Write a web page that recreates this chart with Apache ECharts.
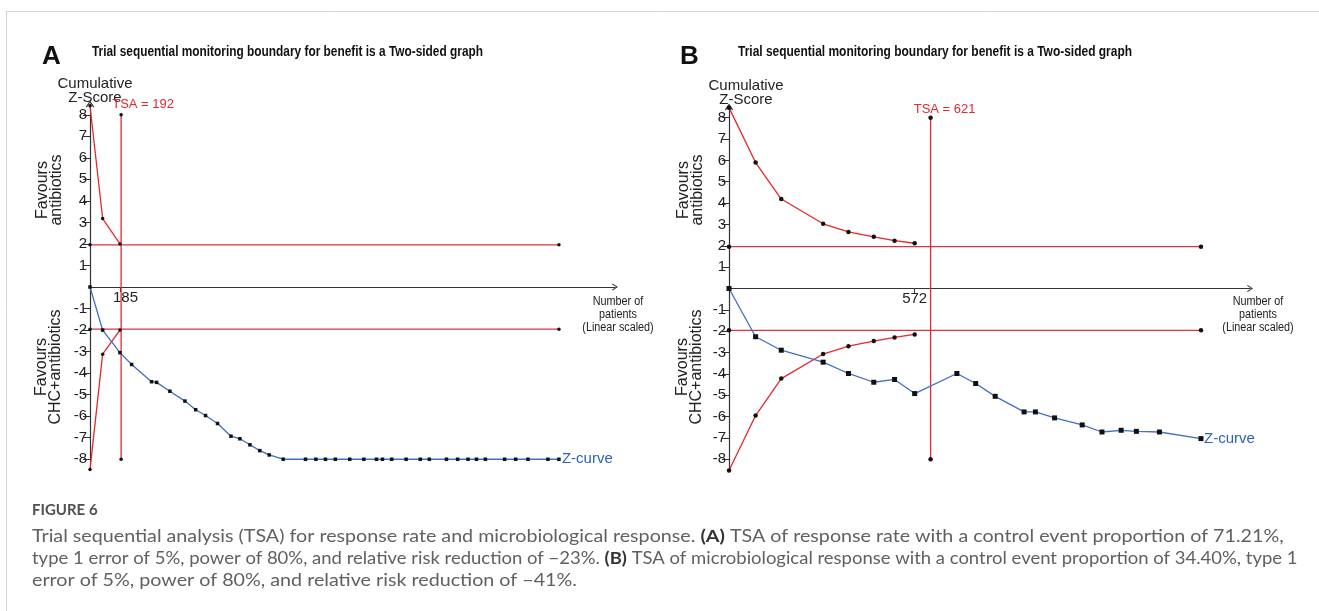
<!DOCTYPE html>
<html>
<head>
<meta charset="utf-8">
<title>TSA figure 6</title>
<script src="https://cdn.jsdelivr.net/npm/echarts@6/dist/echarts.min.js"></script>
<style>
    html, body { margin: 0; padding: 0; background: #fff; }
    #chart { width: 1319px; height: 611px; }
</style>
</head>
<body>
<div id="chart"></div>
<script>
// A: response rate, number of patients / cumulative z-score
var boundaryPatientsA = [0, 78, 185];
var upperBoundaryA = [8.42, 3.18, 2.0];
var lowerBoundaryA = [-8.48, -3.12, -2.0];
var zPatientsA = [0, 78, 185, 257, 380, 411, 493, 586, 652, 713, 787, 870, 925, 987, 1048, 1106, 1192,
    1330, 1394, 1453, 1514, 1603, 1690, 1768, 1805, 1862, 1951, 2038, 2094, 2200, 2269, 2333, 2385,
    2440, 2559, 2627, 2703, 2826, 2894];
var zCurveA = [0, -2.0, -3.05, -3.6, -4.4, -4.43, -4.84, -5.3, -5.7, -5.97, -6.34, -6.93, -7.05, -7.33, -7.6, -7.8, -8,
    -8, -8, -8, -8, -8, -8, -8, -8, -8, -8, -8, -8, -8, -8, -8, -8,
    -8, -8, -8, -8, -8, -8];
var tsaA = 192;
var tickA = 185;

// B: microbiological response
var boundaryPatientsB = [0, 82, 161, 290, 368, 446, 510, 572];
var upperBoundaryB = [8.47, 5.9, 4.19, 3.03, 2.65, 2.42, 2.24, 2.12];
var lowerBoundaryB = [-8.52, -5.95, -4.22, -3.07, -2.7, -2.46, -2.29, -2.15];
var zPatientsB = [0, 82, 161, 290, 368, 446, 510, 572, 702, 760, 820, 909, 944, 1003, 1088, 1149, 1208, 1255, 1326, 1454];
var zCurveB = [0, -2.26, -2.89, -3.45, -3.98, -4.39, -4.26, -4.92, -3.98, -4.45, -5.05, -5.78, -5.78, -6.06, -6.39,
    -6.72, -6.64, -6.69, -6.72, -7.03];
var tsaB = 621;
var tickB = 572;

// conventional boundary and y tick labels
var conventionalZ = 1.96;
var zTicks = [-8, -7, -6, -5, -4, -3, -2, -1, 1, 2, 3, 4, 5, 6, 7, 8];

var titleText = 'Trial sequential monitoring boundary for benefit is a Two-sided graph';
var captionLines = [
    'Trial sequential analysis (TSA) for response rate and microbiological response. {b|(A)} TSA of response rate with a control event proportion of 71.21%,',
    'type 1 error of 5%, power of 80%, and relative risk reduction of \u221223%. {b|(B)} TSA of microbiological response with a control event proportion of 34.40%, type 1',
    'error of 5%, power of 80%, and relative risk reduction of \u221241%.'
];

var RED = '#e6272d';
var RED_H = '#d63640';
var BLUE = '#3f6fc6';
var INK = '#222';
var CHEVRON = 'path://M0,9 L6,0 L12,9 L10.6,10 L6,3 L1.4,10 Z';

var chart = echarts.init(document.getElementById('chart'));

// measure text so that narrow fonts can be squeezed to the picture's width
var measureCtx = document.createElement('canvas').getContext('2d');
function fitScale(text, font, width) {
    measureCtx.font = font;
    return width / measureCtx.measureText(text.replace(/\{b\|([^}]*)\}/g, '$1')).width;
}

function zip(xs, ys) {
    return xs.map(function (x, i) {
        return [x, ys[i]];
    });
}

// the x axis sits on z = 0, moved up into the grid with a negative offset
function xAxisFor(g, max, tick, pad, lift) {
    return {
        type: 'value', gridIndex: g, min: 0, max: max, offset: -lift,
        splitLine: { show: false },
        axisLine: {
            onZero: false,
            symbol: ['none', CHEVRON],
            symbolSize: [10, 6],
            lineStyle: { color: '#333', width: 1.2 }
        },
        axisTick: { customValues: [tick], length: 5, lineStyle: { color: '#333' } },
        axisLabel: {
            customValues: [tick], color: INK, fontSize: 15, margin: 3,
            fontFamily: 'Liberation Sans', padding: [0, 0, 0, pad]
        }
    };
}

function yAxisFor(g) {
    return {
        type: 'value', gridIndex: g, min: -8.5, max: 8.5,
        splitLine: { show: false },
        axisLine: {
            show: true, onZero: false,
            symbol: ['none', CHEVRON],
            symbolSize: [10, 7],
            lineStyle: { color: '#333', width: 1.2 }
        },
        axisTick: { show: true, customValues: zTicks, length: 7, lineStyle: { color: '#333' } },
        axisLabel: { customValues: zTicks, color: INK, fontSize: 15, margin: 3, fontFamily: 'Liberation Sans' }
    };
}

function panelSeries(g, p) {
    var base = {
        type: 'line', xAxisIndex: g, yAxisIndex: g, clip: false, silent: true,
        symbol: 'circle', symbolSize: p.dot, showAllSymbol: true,
        itemStyle: { color: '#111' }
    };
    function line(extra) {
        return Object.assign({}, base, extra);
    }
    var end = p.zx[p.zx.length - 1];
    return [
        line({ data: zip([0, end], [conventionalZ, conventionalZ]), lineStyle: { color: RED_H, width: 1.2 } }),
        line({ data: zip([0, end], [-conventionalZ, -conventionalZ]), lineStyle: { color: RED_H, width: 1.2 } }),
        line({ data: zip(p.bx, p.upper), lineStyle: { color: RED, width: 1.3 } }),
        line({ data: zip(p.bx, p.lower), lineStyle: { color: RED, width: 1.3 } }),
        line({
            data: [[p.tsa, -8], {
                value: [p.tsa, 8],
                label: {
                    show: true, position: 'top', formatter: 'TSA = ' + p.tsa,
                    color: RED, fontSize: 13, fontFamily: 'Liberation Sans', offset: p.tsaOffset
                }
            }],
            lineStyle: { color: RED, width: 1.3 }
        }),
        line({
            data: zip(p.zx, p.z), symbol: 'rect', symbolSize: p.square,
            lineStyle: { color: BLUE, width: 1.3 },
            endLabel: {
                show: true, formatter: 'Z-curve', color: '#2d5fbe', fontSize: 15,
                fontFamily: 'Liberation Sans', distance: 3
            }
        })
    ];
}

function text(x, y, str, font, fill, align, extra, lineHeight) {
    return Object.assign({
        type: 'text', x: x, y: y, silent: true,
        style: {
            text: str, font: font, fill: fill, textAlign: align, textVerticalAlign: 'middle',
            lineHeight: lineHeight || 14
        }
    }, extra || {});
}

var labelFont = '15px "Liberation Sans", Arial, sans-serif';
var nameFont = '16px "Liberation Sans", Arial, sans-serif';
var titleFont = 'bold 15px "Liberation Sans", Arial, sans-serif';
var smallFont = '12px "Liberation Sans", Arial, sans-serif';
var capFont = '17px Lato, "Open Sans", sans-serif';
var s1 = fitScale(captionLines[0], capFont, 1251);
var s2 = fitScale(captionLines[1], capFont, 1265);

function panelGraphics(letter, letterX, titleX, titleW, cumX, cumY, nameX) {
    return [
        text(letterX, 57, letter, 'bold 26px "Liberation Sans", Arial, sans-serif', '#111', 'left'),
        text(titleX, 52, titleText, titleFont, '#111', 'left', { scaleX: fitScale(titleText, titleFont, titleW) }),
        text(cumX, cumY, 'Cumulative\nZ-Score', labelFont, INK, 'center'),
        text(nameX, 190, 'Favours\nantibiotics', nameFont, INK, 'center', { rotation: Math.PI / 2 }),
        text(nameX - 1, 367, 'Favours\nCHC+antibiotics', nameFont, INK, 'center', { rotation: Math.PI / 2 })
    ];
}

var graphics = [
    { type: 'line', silent: true, shape: { x1: 6, y1: 11.5, x2: 1319, y2: 11.5 }, style: { stroke: '#d4d4d4', lineWidth: 1 } },
    { type: 'line', silent: true, shape: { x1: 6.5, y1: 11.5, x2: 6.5, y2: 611 }, style: { stroke: '#d4d4d4', lineWidth: 1 } }
]
    .concat(panelGraphics('A', 42, 92, 391, 95, 90.5, 50))
    .concat(panelGraphics('B', 680, 738, 394, 746, 92.5, 691))
    .concat([
        text(618, 315, 'Number of\npatients\n(Linear scaled)', smallFont, INK, 'center', { scaleX: 0.9 }, 13),
        text(1258, 315, 'Number of\npatients\n(Linear scaled)', smallFont, INK, 'center', { scaleX: 0.9 }, 13),
        text(32, 510, 'FIGURE 6', 'bold 15px Lato, "Open Sans", sans-serif', '#505050', 'left')
    ]);

captionLines.forEach(function (line, i) {
    graphics.push({
        type: 'text', x: 32, y: 537 + i * 22, silent: true, scaleX: i === 1 ? s2 : s1,
        style: {
            text: line, font: capFont, fill: '#606060', textAlign: 'left', textVerticalAlign: 'middle',
            rich: { b: { font: 'bold 17px Lato, "Open Sans", sans-serif', fill: '#333' } }
        }
    });
});

var option = {
    animation: false,
    backgroundColor: '#fff',
    grid: [
        { left: 90, top: 104, width: 525, height: 366 },
        { left: 729, top: 107, width: 521, height: 363 }
    ],
    xAxis: [xAxisFor(0, 3240, tickA, 11, 183), xAxisFor(1, 1605, tickB, 0, 181.5)],
    yAxis: [yAxisFor(0), yAxisFor(1)],
    series: panelSeries(0, {
        bx: boundaryPatientsA, upper: upperBoundaryA, lower: lowerBoundaryA,
        zx: zPatientsA, z: zCurveA, tsa: tsaA, dot: 3.5, square: 3.5, tsaOffset: [22, 3]
    }).concat(panelSeries(1, {
        bx: boundaryPatientsB, upper: upperBoundaryB, lower: lowerBoundaryB,
        zx: zPatientsB, z: zCurveB, tsa: tsaB, dot: 4.5, square: 5, tsaOffset: [14, 5]
    })),
    graphic: graphics
};

chart.setOption(option);
</script>
</body>
</html>
